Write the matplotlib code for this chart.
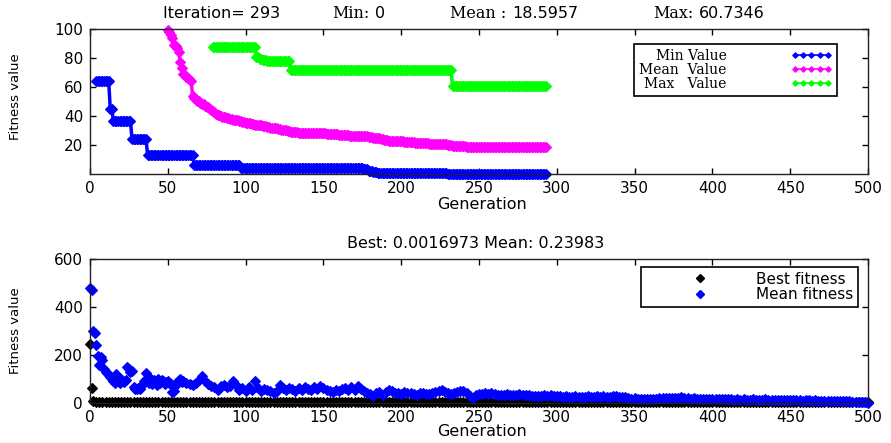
import numpy as np
import matplotlib
matplotlib.use("Agg")
import matplotlib.pyplot as plt
from matplotlib.lines import Line2D

# ---------------- data: top panel (GA progress) ----------------
# step runs for min and max series: first generation, last generation, level
min_first = [4, 13, 15, 27, 37, 67, 97, 176, 179, 182, 185, 230]
min_last = [12, 14, 26, 36, 66, 96, 175, 178, 181, 184, 229, 293]
min_level = [64.3, 45.0, 36.8, 24.1, 13.4, 5.9, 4.3, 3.3, 2.3, 1.5, 0.9, 0.2]

max_first = [79, 107, 109, 111, 114, 129, 233]
max_last = [106, 108, 110, 113, 128, 232, 293]
max_level = [87.7, 81.0, 79.5, 78.3, 77.7, 71.4, 60.8]

mean_first_gen = 50
mean_values = [
    99.5, 98, 96, 94, 89, 88, 87, 84, 77.5, 73,
    69, 68, 67, 66, 65, 64, 53.5, 52.5, 51.5, 50.5,
    50, 49, 48.5, 48, 47, 46.5, 46, 45, 44, 43.5,
    42.5, 41.5, 41, 40.5, 40, 39.5, 39, 39, 38.5, 38.5,
    38, 38, 37.5, 37.5, 37, 37, 36.5, 36.5, 36, 36,
    35.5, 35.5, 35, 35, 34.5, 34.5, 34, 34, 34, 33.5,
    33.5, 33, 33, 33, 32.5, 32.5, 32, 32, 31.5, 31.5,
    31.5, 31, 31, 30.5, 30.5, 30, 30, 29.5, 29.5, 29,
    29, 29, 29, 29, 28.5, 28.5, 28.5, 28.5, 28.5, 28.5,
    28.5, 28.5, 28, 28, 28, 28, 28, 28, 28, 28,
    28, 28, 27.5, 27.5, 27.5, 27.5, 27.5, 27.5, 27.5, 27.5,
    27, 27, 27, 27, 27, 27, 27, 26.5, 26.5, 26.5,
    26.5, 26.5, 26.5, 26.5, 26.5, 26, 26, 26, 26, 25.5,
    25.5, 25.5, 25, 25, 25, 24.5, 24.5, 24, 24, 23.5,
    23.5, 23.5, 23, 23, 23, 23, 22.5, 22.5, 22.5, 22.5,
    22.5, 22.5, 22, 22, 22, 22, 22, 22, 22, 21.5,
    21.5, 21.5, 21.5, 21.5, 21.5, 21.5, 21.5, 21.5, 21, 21,
    21, 21, 21, 21, 21, 21, 20.5, 20.5, 20.5, 20.5,
    20, 20, 20, 19.5, 19.5, 19.5, 19, 19, 19, 19,
    19, 19, 18.9, 18.9, 18.9, 18.9, 18.9, 18.9, 18.9, 18.9,
    18.9, 18.9, 18.9, 18.9, 18.9, 18.9, 18.9, 18.9, 18.9, 18.9,
    18.8, 18.8, 18.8, 18.8, 18.8, 18.8, 18.8, 18.8, 18.8, 18.8,
    18.8, 18.8, 18.8, 18.8, 18.8, 18.8, 18.8, 18.8, 18.8, 18.8,
    18.7, 18.7, 18.7, 18.7, 18.7, 18.7, 18.7, 18.7, 18.7, 18.7,
    18.7, 18.6, 18.6, 18.6,
]

top_title_words = ["Min:", "Mean :", "Max:"]
top_title_numbers = ["0", "18.5957", "60.7346"]
top_title_lead = "Iteration= 293"
top_labels = ["Min Value", "Mean  Value", "Max   Value"]

# ---------------- data: bottom panel (fitness) ----------------
best_early_gen = [0, 1]
best_early = [245, 62]
best_late = [
    8, 6, 6, 5, 5, 5, 5, 5, 5, 5,
    5, 5, 5, 5, 5, 5, 5, 5, 5, 5,
    5, 5, 5, 5, 5, 5, 5, 5, 5, 5,
    5, 5, 5, 5, 5, 5, 5, 5, 5, 5,
    5, 5, 5, 5, 5, 5, 5, 5, 5, 5,
    5, 5, 5, 5, 5, 5, 5, 5, 5, 5,
    5, 5, 5, 5, 5, 5, 5, 5, 5, 5,
    5, 5, 5, 5, 5, 5, 5, 5, 5, 5,
    5, 5, 5, 5, 5, 5, 5, 5, 5, 5,
    5, 5, 5, 5, 5, 5, 5, 5, 5, 5,
    5, 5, 5, 5, 5, 5, 5, 5, 5, 5,
    5, 5, 5, 5, 5, 5, 5, 5, 5, 5,
    5, 5, 5, 5, 5, 5, 5, 5, 5, 5,
    5, 5, 5, 5, 5, 5, 5, 5, 5, 5,
    5, 5, 5, 5, 5, 5, 5, 5, 5, 5,
    4.5, 4.5, 4.5, 4.5, 4.5, 4.5, 4.5, 4.5, 4.5, 4.5,
    4.5, 4.5, 4.5, 4.5, 4.5, 4.5, 4.5, 4.5, 4.5, 4.5,
    4.5, 4.5, 4.5, 4.5, 4.5, 4.5, 4.5, 4.5, 4.5, 4.5,
    4.5, 4.5, 4.5, 4.5, 4.5, 4.5, 4.5, 4.5, 4.5, 4.5,
    4, 4, 4, 4, 4, 4, 4, 4, 4, 4,
    4, 4, 4, 4, 4, 4, 4, 4, 4, 4,
    4, 4, 4, 4, 4, 4, 4, 4, 4, 4,
    4, 4, 4, 4, 4, 4, 4, 4, 4, 4,
    3.5, 3.5, 3.5, 3.5, 3.5, 3.5, 3.5, 3.5, 3.5, 3.5,
    3.5, 3.5, 3.5, 3.5, 3.5, 3.5, 3.5, 3.5, 3.5, 3.5,
]  # generations 2, 4, ..., 500

mean_early = [  # generations 0..59
    480, 470, 300, 292, 242, 195, 158, 190, 180, 140,
    130, 125, 118, 110, 100, 90, 82, 120, 95, 85,
    100, 90, 88, 95, 150, 140, 130, 132, 65, 60,
    58, 62, 60, 70, 80, 90, 125, 95, 85, 100,
    80, 95, 90, 75, 100, 85, 95, 90, 80, 88,
    92, 85, 78, 47, 50, 85, 80, 95, 100, 88,
]
mean_late = [  # generations 60, 62, ..., 500
    90, 85, 80, 75, 85, 95, 112, 90, 80, 70,
    65, 55, 70, 75, 65, 72, 93, 75, 55, 62,
    50, 65, 55, 90, 62, 52, 60, 55, 48, 42,
    52, 75, 62, 55, 62, 58, 52, 62, 55, 65,
    60, 55, 65, 60, 72, 62, 55, 50, 45, 55,
    50, 58, 62, 55, 65, 55, 72, 60, 50, 42,
    38, 30, 40, 45, 35, 45, 55, 48, 40, 42,
    38, 45, 40, 42, 38, 35, 40, 42, 38, 36,
    40, 45, 52, 54, 45, 40, 38, 42, 45, 48,
    50, 40, 30, 21, 32, 38, 36, 40, 38, 42,
    36, 34, 35, 33, 36, 34, 35, 33, 36, 32,
    34, 35, 30, 31, 28, 30, 32, 31, 33, 30,
    28, 30, 27, 28, 26, 27, 28, 26, 27, 25,
    28, 26, 27, 29, 27, 28, 26, 27, 30, 28,
    26, 25, 24, 22, 18, 20, 18, 17, 18, 16,
    17, 18, 17, 19, 20, 19, 22, 20, 19, 21,
    24, 22, 19, 18, 20, 18, 17, 18, 16, 17,
    15, 17, 16, 15, 17, 16, 15, 14, 15, 14,
    15, 14, 13, 15, 14, 13, 14, 15, 13, 12,
    13, 12, 14, 12, 11, 12, 11, 12, 11, 10,
    11, 12, 10, 11, 9, 10, 9, 10, 9, 8,
    9, 8, 7, 8, 7, 6, 5, 5, 4, 3,
    2,
]
bottom_title = "Best: 0.0016973 Mean: 0.23983"
bottom_labels = ["Best fitness", "Mean fitness"]

x_ticks = list(range(0, 501, 50))
top_yticks = [20, 40, 60, 80, 100]
bot_yticks = [0, 200, 400, 600]


def expand(first, last, level):
    g = np.concatenate([np.arange(a, b + 1) for a, b in zip(first, last)])
    v = np.concatenate([np.full(b - a + 1, lv) for a, b, lv in zip(first, last, level)])
    return g, v


min_g, min_v = expand(min_first, min_last, min_level)
max_g, max_v = expand(max_first, max_last, max_level)
mean_g = np.arange(mean_first_gen, mean_first_gen + len(mean_values))
mean_v = np.array(mean_values)

best_g = np.concatenate([best_early_gen, np.arange(2, 2 + 2 * len(best_late), 2)])
best_v = np.concatenate([best_early, best_late])
mf_g = np.concatenate([np.arange(0, len(mean_early)), np.arange(60, 60 + 2 * len(mean_late), 2)])
mf_v = np.concatenate([mean_early, mean_late])

# ---------------- figure ----------------
plt.rcParams['font.family'] = ['DejaVu Sans']
W, H = 891, 443
fig = plt.figure(figsize=(W / 100, H / 100), dpi=100)


def fx(x):
    return x / W


def fy(y):
    return 1 - y / H


ax1 = fig.add_axes([fx(90), fy(174), fx(868) - fx(90), fy(29) - fy(174)])
ax2 = fig.add_axes([fx(90), fy(403), fx(868) - fx(90), fy(259) - fy(403)])

blue, magenta, green = '#0000ff', '#ff00ff', '#00ff00'
ms_top = 5.2
ms_bot = 5.5
for g, v, c, lab in [(min_g, min_v, blue, top_labels[0]),
                     (mean_g, mean_v, magenta, top_labels[1]),
                     (max_g, max_v, green, top_labels[2])]:
    ax1.plot(g, v, '-', color=c, lw=2.5, marker='D', ms=ms_top, mec=c, mew=0.8,
             clip_on=False, label=lab)

# best fitness: dense markers along the bottom (joined so the band stays solid)
ax2.plot(best_g[2:], best_v[2:], '-', color='black', lw=3.2, marker='D', ms=ms_bot,
         mew=0.8, clip_on=False)
ax2.plot(best_g[:2], best_v[:2], linestyle='none', color='black', marker='D', ms=ms_bot,
         mew=0.8, clip_on=False)
ax2.plot(mf_g, mf_v, linestyle='none', color=blue, marker='D', ms=ms_bot, mew=0.8,
         clip_on=False)

for ax, yt, yl in [(ax1, top_yticks, (0, 100)), (ax2, bot_yticks, (0, 600))]:
    ax.set_xlim(0, 500)
    ax.set_ylim(*yl)
    ax.set_xticks(x_ticks)
    ax.set_yticks(yt)
    ax.tick_params(direction='in', top=True, right=True, length=4, width=1,
                   labelsize=11, pad=5, colors='black')
    for s in ax.spines.values():
        s.set_linewidth(1)
        s.set_color('#202020')

# titles: sans lead text, serif words followed by sans numbers
fig.text(fx(163), fy(13), top_title_lead, fontsize=11.5, ha='left', va='center')
renderer = fig.canvas.get_renderer()
for word, num, x in zip(top_title_words, top_title_numbers, [332, 450, 653]):
    t = fig.text(fx(x), fy(13), word, family='DejaVu Serif', fontsize=11.5,
                 ha='left', va='center')
    bb = t.get_window_extent(renderer)
    fig.text(fx(bb.x1 + 6), fy(13), num, fontsize=11.5, ha='left', va='center')
fig.text(fx(476), fy(243), bottom_title, fontsize=11.5, ha='center', va='center')

# axis labels
fig.text(fx(482), fy(204), "Generation", fontsize=11.5, ha='center', va='center')
fig.text(fx(482), fy(432), "Generation", fontsize=11.5, ha='center', va='center')
fig.text(fx(16), fy(97), "Fitness value", fontsize=9.5, rotation=90, ha='center', va='center')
fig.text(fx(16), fy(331), "Fitness value", fontsize=9.5, rotation=90, ha='center', va='center')

# legends
leg1 = ax1.legend(loc='upper right', bbox_to_anchor=(0.96, 0.897),
                  prop={'family': 'DejaVu Serif', 'size': 10}, markerfirst=False,
                  numpoints=5, handlelength=3.0, handletextpad=4.6, labelspacing=0.0,
                  borderpad=0.35, borderaxespad=0, fancybox=False, edgecolor='black',
                  framealpha=1, markerscale=0.55)
leg1.get_frame().set_linewidth(1.2)
for ln in leg1.get_lines():
    ln.set_linewidth(1.2)

h_best = Line2D([], [], linestyle='none', color='black', marker='D', ms=ms_bot * 0.7)
h_mean = Line2D([], [], linestyle='none', color=blue, marker='D', ms=ms_bot * 0.7)
leg2 = ax2.legend(handles=[h_best, h_mean], labels=bottom_labels,
                  loc='upper right', bbox_to_anchor=(0.987, 0.944),
                  prop={'size': 11}, numpoints=1, handlelength=7.0, handletextpad=0.2,
                  labelspacing=0.05, borderpad=0.3, borderaxespad=0, fancybox=False,
                  edgecolor='black', framealpha=1)
leg2.get_frame().set_linewidth(1.2)

fig.savefig("out.png", dpi=100)
